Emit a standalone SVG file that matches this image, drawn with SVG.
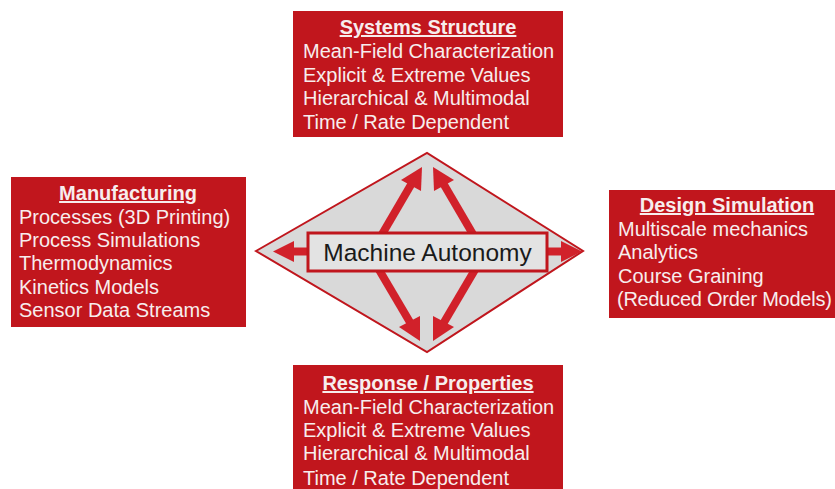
<svg xmlns="http://www.w3.org/2000/svg" width="835" height="489" viewBox="0 0 835 489">
<style>
.box{fill:#c1161d;}
.t{font-family:"Liberation Sans",Arial,sans-serif;font-size:20px;fill:#f7eded;}
.h{font-weight:bold;text-decoration:underline;text-anchor:middle;}
.arr{fill:#d1212a;}
.shaft{stroke:#d1212a;stroke-width:8;fill:none;}
</style>
<rect width="835" height="489" fill="#ffffff"/>
<g id="hub">
<polygon points="256,251 427,153 583,251 427,352" fill="#d9d9d9" stroke="#c0161d" stroke-width="2"/>
</g>
<g id="connectors">
<line class="shaft" x1="310" y1="251.5" x2="290" y2="251.5"/>
<polygon class="arr" points="273,251.5 294,241 294,262"/>
<line class="shaft" x1="545" y1="251.5" x2="565" y2="251.5"/>
<polygon class="arr" points="582,251.5 561,241 561,262"/>
<line class="shaft" x1="381" y1="236" x2="412" y2="183"/>
<polygon class="arr" points="422,167 401,180 421,191"/>
<line class="shaft" x1="474" y1="236" x2="443" y2="183"/>
<polygon class="arr" points="433,167 454,180 434,191"/>
<line class="shaft" x1="378" y1="268" x2="411" y2="324"/>
<polygon class="arr" points="420,341 399,327 420,316"/>
<line class="shaft" x1="476" y1="268" x2="443" y2="324"/>
<polygon class="arr" points="433,341 454,327 433,316"/>
</g>
<g id="machine-autonomy">
<rect x="308" y="233" width="239" height="38" fill="#e3e3e3" stroke="#c0161d" stroke-width="3"/>
<text x="427.5" y="261" text-anchor="middle" font-family="Liberation Sans,Arial,sans-serif" font-size="24.5" fill="#1a1a1a">Machine Autonomy</text>
</g>
<g id="systems-structure">
<rect class="box" x="293" y="11" width="270" height="126"/>
<text class="t h" x="428" y="34">Systems Structure</text>
<text class="t" x="303" y="58">Mean-Field Characterization</text>
<text class="t" x="303" y="82">Explicit &amp; Extreme Values</text>
<text class="t" x="303" y="105">Hierarchical &amp; Multimodal</text>
<text class="t" x="303" y="129">Time / Rate Dependent</text>
</g>
<g id="manufacturing">
<rect class="box" x="11" y="177" width="235" height="150"/>
<text class="t h" x="128" y="200">Manufacturing</text>
<text class="t" x="19" y="224">Processes (3D Printing)</text>
<text class="t" x="19" y="247">Process Simulations</text>
<text class="t" x="19" y="270">Thermodynamics</text>
<text class="t" x="19" y="294">Kinetics Models</text>
<text class="t" x="19" y="317">Sensor Data Streams</text>
</g>
<g id="design-simulation">
<rect class="box" x="609" y="190" width="240" height="128"/>
<text class="t h" x="727" y="212">Design Simulation</text>
<text class="t" x="618" y="236">Multiscale mechanics</text>
<text class="t" x="618" y="259">Analytics</text>
<text class="t" x="618" y="283">Course Graining</text>
<text class="t" x="617" y="306" letter-spacing="-0.25">(Reduced Order Models)</text>
</g>
<g id="response-properties">
<rect class="box" x="293" y="365" width="270" height="130"/>
<text class="t h" x="428" y="390">Response / Properties</text>
<text class="t" x="303" y="414">Mean-Field Characterization</text>
<text class="t" x="303" y="437">Explicit &amp; Extreme Values</text>
<text class="t" x="303" y="460">Hierarchical &amp; Multimodal</text>
<text class="t" x="303" y="485">Time / Rate Dependent</text>
</g>
</svg>
